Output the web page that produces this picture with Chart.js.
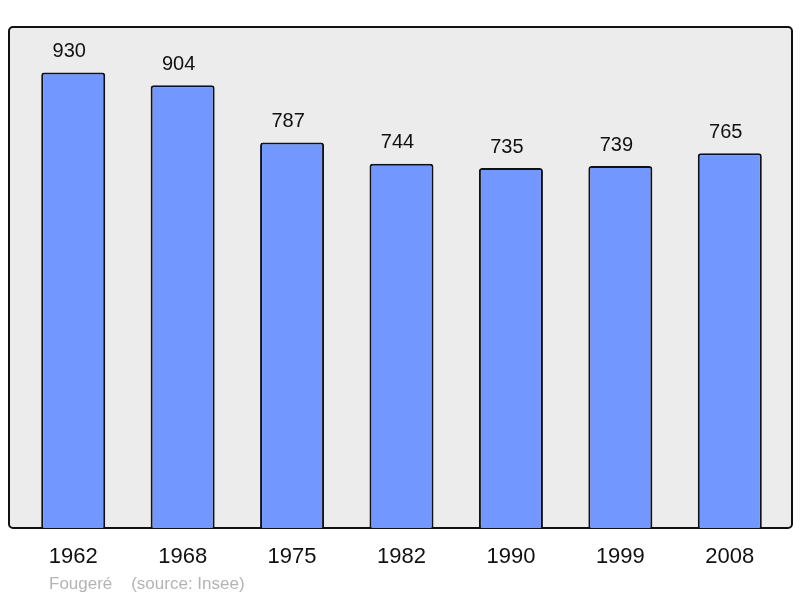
<!DOCTYPE html>
<html>
<head>
<meta charset="utf-8">
<script src="https://cdn.jsdelivr.net/npm/chart.js@4"></script>
<style>
  html, body { margin: 0; padding: 0; background: #fff; }
  #wrap { width: 800px; height: 598px; }
</style>
</head>
<body>
<div id="wrap"><canvas id="popChart" width="800" height="598"></canvas></div>
<script>
// Population figures (Insee)
const years = ['1962', '1968', '1975', '1982', '1990', '1999', '2008'];
const population = [930, 904, 787, 744, 735, 739, 765];
const sourceText = 'Fougeré    (source: Insee)';

// grey panel with black border behind the bars
const framePlugin = {
    id: 'frame',
    beforeDatasetsDraw(chart) {
        const a = chart.chartArea;
        const ctx = chart.ctx;
        ctx.save();
        ctx.beginPath();
        ctx.roundRect(a.left - 9.5, a.top, a.right - a.left + 17, a.bottom - a.top, 4);
        ctx.fillStyle = '#ececec';
        ctx.fill();
        ctx.lineWidth = 2;
        ctx.strokeStyle = '#111';
        ctx.stroke();
        ctx.restore();
    }
};

// numbers above the bars + source line
const labelPlugin = {
    id: 'valueLabels',
    afterDatasetsDraw(chart) {
        const ctx = chart.ctx;
        const meta = chart.getDatasetMeta(0);
        ctx.save();
        ctx.font = '20px "Liberation Sans", Arial, sans-serif';
        ctx.fillStyle = '#111';
        ctx.textAlign = 'center';
        ctx.textBaseline = 'middle';
        meta.data.forEach((bar, i) => {
            ctx.fillText(population[i], bar.x - 4, bar.y - 21);
        });
        ctx.font = '17px "Liberation Sans", Arial, sans-serif';
        ctx.fillStyle = '#b4b4b4';
        ctx.textAlign = 'left';
        ctx.fillText(sourceText, 49, 584);
        ctx.restore();
    }
};

new Chart(document.getElementById('popChart').getContext('2d'), {
    type: 'bar',
    data: {
        labels: years,
        datasets: [{
            data: population,
            backgroundColor: '#7298ff',
            borderColor: '#111',
            borderWidth: 2,
            borderSkipped: 'bottom',
            borderRadius: { topLeft: 3, topRight: 3 },
            categoryPercentage: 1,
            barPercentage: 0.585
        }]
    },
    options: {
        responsive: false,
        animation: false,
        layout: { padding: { left: 18.5, right: 15.5, top: 27, bottom: 0 } },
        plugins: {
            legend: { display: false },
            tooltip: { enabled: false }
        },
        scales: {
            x: {
                grid: { display: false, drawTicks: false },
                border: { display: false },
                ticks: {
                    padding: 16,
                    color: '#111',
                    font: { size: 22, family: '"Liberation Sans", Arial, sans-serif' }
                },
                afterFit(scale) { scale.height = 70; }
            },
            y: {
                display: false,
                min: 0,
                max: 1023
            }
        }
    },
    plugins: [framePlugin, labelPlugin]
});
</script>
</body>
</html>
